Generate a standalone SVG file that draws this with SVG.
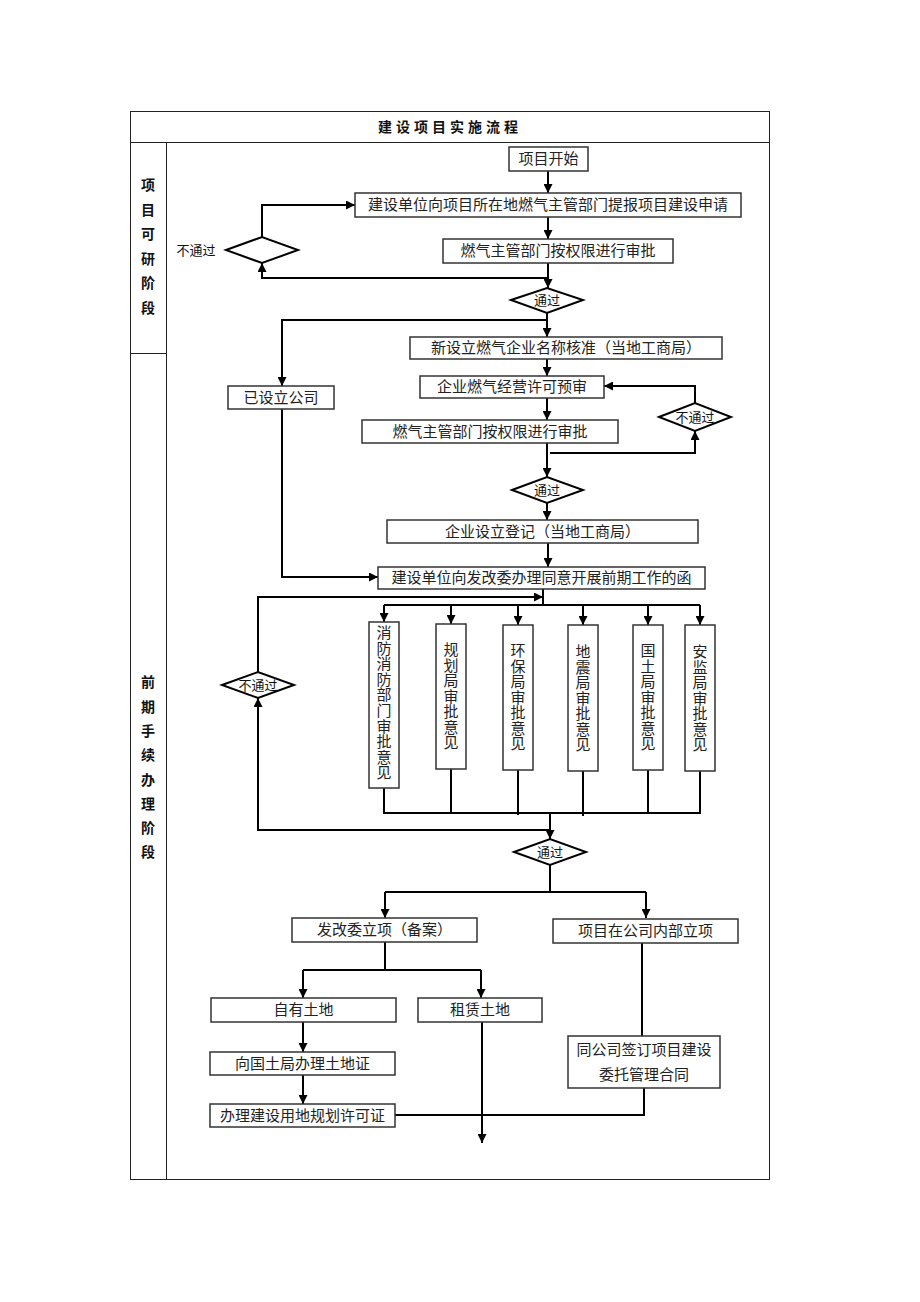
<svg xmlns="http://www.w3.org/2000/svg" width="920" height="1302" viewBox="0 0 920 1302">
<style>
.tbl{fill:none;stroke:#222;stroke-width:1}
.box{fill:#fff;stroke:#333;stroke-width:1.5}
.dia{fill:#fff;stroke:#000;stroke-width:2}
.c{fill:none;stroke:#000;stroke-width:2}
.t{font-family:"Liberation Serif","Noto Sans CJK SC",serif;font-size:15px;fill:#222;text-anchor:middle;dominant-baseline:central}
.s{font-family:"Liberation Serif","Noto Sans CJK SC",serif;font-size:14px;font-weight:bold;fill:#111;text-anchor:middle;dominant-baseline:central}
.d{font-family:"Liberation Serif","Noto Sans CJK SC",serif;font-size:13px;fill:#111;text-anchor:middle;dominant-baseline:central}
</style>
<defs>
<marker id="ah" viewBox="0 0 10 10" refX="10" refY="5" markerWidth="9" markerHeight="9" markerUnits="userSpaceOnUse" orient="auto"><path d="M0,0 L10,5 L0,10 z" fill="#000"/></marker>
</defs>
<rect width="920" height="1302" fill="#fff"/>
<g id="table">
<rect class="tbl" x="130.5" y="111.5" width="639" height="1068"/>
<line class="tbl" x1="130" y1="142.5" x2="770" y2="142.5"/>
<line class="tbl" x1="166.5" y1="142" x2="166.5" y2="1179"/>
<line class="tbl" x1="130" y1="353.5" x2="166" y2="353.5"/>
<text class="s" x="450" y="127" letter-spacing="4">建设项目实施流程</text>
<text class="s"><tspan x="148" y="185">项</tspan><tspan x="148" y="209.5">目</tspan><tspan x="148" y="234">可</tspan><tspan x="148" y="258.5">研</tspan><tspan x="148" y="283">阶</tspan><tspan x="148" y="308">段</tspan></text>
<text class="s"><tspan x="148" y="682">前</tspan><tspan x="148" y="706.5">期</tspan><tspan x="148" y="731">手</tspan><tspan x="148" y="755">续</tspan><tspan x="148" y="779.5">办</tspan><tspan x="148" y="804">理</tspan><tspan x="148" y="828">阶</tspan><tspan x="148" y="852">段</tspan></text>
</g>
<g id="connectors">
<path class="c" d="M548,171 V193" marker-end="url(#ah)"/>
<path class="c" d="M548,217 V239" marker-end="url(#ah)"/>
<path class="c" d="M548,263 V288" marker-end="url(#ah)"/>
<path class="c" d="M548,278 H262 V263" marker-end="url(#ah)"/>
<path class="c" d="M262,237 V205 H355" marker-end="url(#ah)"/>
<path class="c" d="M547,313 V337" marker-end="url(#ah)"/>
<path class="c" d="M547,320 H282 V386" marker-end="url(#ah)"/>
<path class="c" d="M547,359 V376" marker-end="url(#ah)"/>
<path class="c" d="M547,398 V420" marker-end="url(#ah)"/>
<path class="c" d="M547,443 V477" marker-end="url(#ah)"/>
<path class="c" d="M550,453 H695 V431" marker-end="url(#ah)"/>
<path class="c" d="M695,403 V386 H604" marker-end="url(#ah)"/>
<path class="c" d="M547,503 V520" marker-end="url(#ah)"/>
<path class="c" d="M548,543 V567" marker-end="url(#ah)"/>
<path class="c" d="M282,409 V577 H378" marker-end="url(#ah)"/>
<path class="c" d="M543,589 V605"/>
<path class="c" d="M384,605 H700"/>
<path class="c" d="M384,605 V622" marker-end="url(#ah)"/>
<path class="c" d="M451,605 V624" marker-end="url(#ah)"/>
<path class="c" d="M518,605 V625" marker-end="url(#ah)"/>
<path class="c" d="M583,605 V625" marker-end="url(#ah)"/>
<path class="c" d="M648,605 V625" marker-end="url(#ah)"/>
<path class="c" d="M700,605 V625" marker-end="url(#ah)"/>
<path class="c" d="M258,672 V597 H543" marker-end="url(#ah)"/>
<path class="c" d="M384,788 V813 H700 V771"/>
<path class="c" d="M451,769 V813"/>
<path class="c" d="M518,770 V815"/>
<path class="c" d="M583,771 V816"/>
<path class="c" d="M648,770 V813"/>
<path class="c" d="M550,813 V839" marker-end="url(#ah)"/>
<path class="c" d="M550,830 H258 V698" marker-end="url(#ah)"/>
<path class="c" d="M550,865 V892"/>
<path class="c" d="M385,892 H646"/>
<path class="c" d="M385,892 V918" marker-end="url(#ah)"/>
<path class="c" d="M646,892 V918" marker-end="url(#ah)"/>
<path class="c" d="M385,942 V970"/>
<path class="c" d="M303,970 H481"/>
<path class="c" d="M303,970 V998" marker-end="url(#ah)"/>
<path class="c" d="M481,970 V998" marker-end="url(#ah)"/>
<path class="c" d="M303,1022 V1052" marker-end="url(#ah)"/>
<path class="c" d="M303,1075 V1104" marker-end="url(#ah)"/>
<path class="c" d="M482,1022 V1143" marker-end="url(#ah)"/>
<path class="c" d="M642,943 V1036"/>
<path class="c" d="M644,1088 V1115 H395"/>
</g>
<g id="n-start"><rect class="box" x="509" y="147" width="79" height="24"/><text class="t" x="548.5" y="159">项目开始</text></g>
<g id="n-apply"><rect class="box" x="355" y="193" width="386" height="24"/><text class="t" x="548" y="205">建设单位向项目所在地燃气主管部门提报项目建设申请</text></g>
<g id="n-approve1"><rect class="box" x="443" y="239" width="230" height="24"/><text class="t" x="558" y="251">燃气主管部门按权限进行审批</text></g>
<g id="d-fail1"><polygon class="dia" points="226,250 262,237 298,250 262,263"/><text class="d" x="196" y="250">不通过</text></g>
<g id="d-pass1"><polygon class="dia" points="511,300 547,288 583,300 547,313"/><text class="d" x="547" y="300">通过</text></g>
<g id="n-name"><rect class="box" x="410" y="337" width="312" height="22"/><text class="t" x="566" y="348">新设立燃气企业名称核准（当地工商局）</text></g>
<g id="n-pre"><rect class="box" x="420" y="376" width="184" height="22"/><text class="t" x="512" y="387">企业燃气经营许可预审</text></g>
<g id="n-approve2"><rect class="box" x="362" y="420" width="256" height="23"/><text class="t" x="490" y="431.5">燃气主管部门按权限进行审批</text></g>
<g id="d-fail2"><polygon class="dia" points="659,417 695,403 731,417 695,431"/><text class="d" x="695" y="417">不通过</text></g>
<g id="d-pass2"><polygon class="dia" points="512,490 547,477 583,490 547,503"/><text class="d" x="547" y="490">通过</text></g>
<g id="n-register"><rect class="box" x="387" y="520" width="311" height="23"/><text class="t" x="542.5" y="531.5">企业设立登记（当地工商局）</text></g>
<g id="n-existing"><rect class="box" x="228" y="386" width="106" height="23"/><text class="t" x="281" y="397.5">已设立公司</text></g>
<g id="n-letter"><rect class="box" x="378" y="567" width="327" height="22"/><text class="t" x="541.5" y="578">建设单位向发改委办理同意开展前期工作的函</text></g>
<g id="v-fire"><rect class="box" x="369" y="622" width="30" height="166"/><text class="t"><tspan x="384" y="633">消</tspan><tspan x="384" y="648.6">防</tspan><tspan x="384" y="664.2">消</tspan><tspan x="384" y="679.8">防</tspan><tspan x="384" y="695.4">部</tspan><tspan x="384" y="711">门</tspan><tspan x="384" y="726.6">审</tspan><tspan x="384" y="742.2">批</tspan><tspan x="384" y="757.8">意</tspan><tspan x="384" y="773.4">见</tspan></text></g>
<g id="v-plan"><rect class="box" x="436" y="624" width="30" height="145"/><text class="t"><tspan x="451" y="650">规</tspan><tspan x="451" y="665.5">划</tspan><tspan x="451" y="681">局</tspan><tspan x="451" y="696.5">审</tspan><tspan x="451" y="712">批</tspan><tspan x="451" y="727.5">意</tspan><tspan x="451" y="743">见</tspan></text></g>
<g id="v-env"><rect class="box" x="503" y="625" width="30" height="145"/><text class="t"><tspan x="518" y="651">环</tspan><tspan x="518" y="666.5">保</tspan><tspan x="518" y="682">局</tspan><tspan x="518" y="697.5">审</tspan><tspan x="518" y="713">批</tspan><tspan x="518" y="728.5">意</tspan><tspan x="518" y="744">见</tspan></text></g>
<g id="v-quake"><rect class="box" x="568" y="625" width="30" height="146"/><text class="t"><tspan x="583" y="652">地</tspan><tspan x="583" y="667.5">震</tspan><tspan x="583" y="683">局</tspan><tspan x="583" y="698.5">审</tspan><tspan x="583" y="714">批</tspan><tspan x="583" y="729.5">意</tspan><tspan x="583" y="745">见</tspan></text></g>
<g id="v-land"><rect class="box" x="633" y="625" width="30" height="145"/><text class="t"><tspan x="648" y="651">国</tspan><tspan x="648" y="666.5">土</tspan><tspan x="648" y="682">局</tspan><tspan x="648" y="697.5">审</tspan><tspan x="648" y="713">批</tspan><tspan x="648" y="728.5">意</tspan><tspan x="648" y="744">见</tspan></text></g>
<g id="v-safety"><rect class="box" x="685" y="625" width="30" height="146"/><text class="t"><tspan x="700" y="652">安</tspan><tspan x="700" y="667.5">监</tspan><tspan x="700" y="683">局</tspan><tspan x="700" y="698.5">审</tspan><tspan x="700" y="714">批</tspan><tspan x="700" y="729.5">意</tspan><tspan x="700" y="745">见</tspan></text></g>
<g id="d-fail3"><polygon class="dia" points="222,685 258,672 294,685 258,698"/><text class="d" x="258" y="685">不通过</text></g>
<g id="d-pass3"><polygon class="dia" points="514,852 550,839 586,852 550,865"/><text class="d" x="550" y="852">通过</text></g>
<g id="n-ndrc"><rect class="box" x="292" y="918" width="185" height="24"/><text class="t" x="384.5" y="930">发改委立项（备案）</text></g>
<g id="n-internal"><rect class="box" x="553" y="919" width="185" height="24"/><text class="t" x="645.5" y="931">项目在公司内部立项</text></g>
<g id="n-own"><rect class="box" x="211" y="998" width="185" height="24"/><text class="t" x="303.5" y="1010">自有土地</text></g>
<g id="n-lease"><rect class="box" x="418" y="998" width="124" height="24"/><text class="t" x="480" y="1010">租赁土地</text></g>
<g id="n-cert"><rect class="box" x="210" y="1052" width="185" height="23"/><text class="t" x="302.5" y="1063.5">向国土局办理土地证</text></g>
<g id="n-permit"><rect class="box" x="210" y="1104" width="185" height="23"/><text class="t" x="302.5" y="1115.5">办理建设用地规划许可证</text></g>
<g id="n-contract"><rect class="box" x="568" y="1036" width="152" height="52"/><text class="t"><tspan x="644" y="1050">同公司签订项目建设</tspan><tspan x="644" y="1075">委托管理合同</tspan></text></g>
</svg>
